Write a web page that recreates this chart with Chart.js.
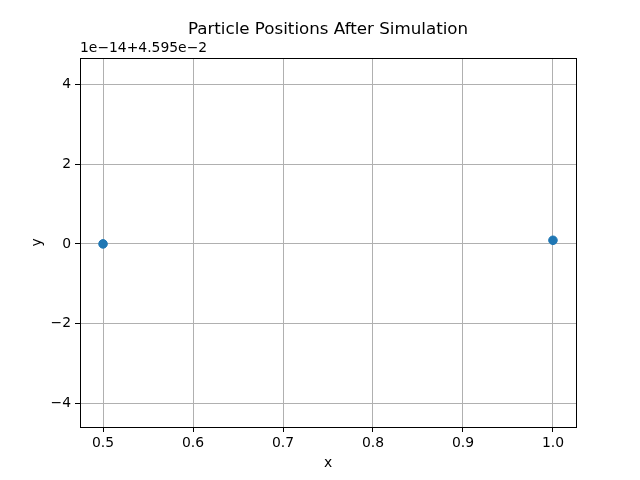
<!DOCTYPE html>
<html>
<head>
<meta charset="utf-8">
<script src="https://cdn.jsdelivr.net/npm/chart.js@4/dist/chart.umd.min.js"></script>
<style>
  html, body { margin: 0; padding: 0; background: #fff; }
  #wrap { width: 640px; height: 480px; }
</style>
</head>
<body>
<div id="wrap"><canvas id="chart" width="640" height="480"></canvas></div>
<script>
// particle positions; y in units of 1e-14 above the 4.595e-2 offset
const xVals = [0.5, 1.0];
const yVals = [0.0, 0.09];
const xTicks = [0.5, 0.6, 0.7, 0.8, 0.9, 1.0];
const yTicks = [-4, -2, 0, 2, 4];
const offsetLabel = "1e\u221214+4.595e\u22122";

const FONT = "'DejaVu Sans', sans-serif";

const decor = {
  id: "decor",
  afterDraw(chart) {
    const { ctx, chartArea: a } = chart;
    ctx.save();
    ctx.strokeStyle = "#000";
    ctx.lineWidth = 1;
    ctx.strokeRect(Math.round(a.left) + 0.5, Math.round(a.top) + 0.5,
                   Math.round(a.right - a.left), Math.round(a.bottom - a.top));
    ctx.fillStyle = "#000";
    ctx.font = "16.7px " + FONT;
    ctx.textAlign = "center";
    ctx.textBaseline = "alphabetic";
    ctx.fillText("Particle Positions After Simulation", (a.left + a.right) / 2, 34);
    ctx.font = "13.9px " + FONT;
    ctx.fillText("x", (a.left + a.right) / 2, 467);
    ctx.textAlign = "left";
    ctx.fillText(offsetLabel, a.left, 52);
    ctx.translate(41, (a.top + a.bottom) / 2);
    ctx.rotate(-Math.PI / 2);
    ctx.textAlign = "center";
    ctx.fillText("y", 0, 0);
    ctx.restore();
  }
};

new Chart(document.getElementById("chart"), {
  type: "scatter",
  data: {
    datasets: [{
      data: xVals.map((x, i) => ({ x: x, y: yVals[i] })),
      backgroundColor: "#1f77b4",
      borderColor: "#1f77b4",
      pointRadius: 4.3,
      pointHoverRadius: 4.3
    }]
  },
  options: {
    responsive: false,
    animation: false,
    layout: { padding: { top: 58, right: 64, bottom: 0, left: 0 } },
    plugins: { legend: { display: false }, tooltip: { enabled: false }, title: { display: false } },
    scales: {
      x: {
        type: "linear",
        min: 0.4744,
        max: 1.0256,
        afterBuildTicks: s => { s.ticks = xTicks.map(v => ({ value: v })); },
        afterFit: s => { s.height = 53; },
        border: { display: false },
        grid: { color: "#b0b0b0", lineWidth: 1, tickColor: "#000", tickLength: 5 },
        ticks: {
          color: "#000", font: { family: FONT, size: 13.9 }, padding: 3,
          maxRotation: 0, autoSkip: false,
          callback: v => v.toFixed(1)
        }
      },
      y: {
        type: "linear",
        min: -4.60,
        max: 4.67,
        afterBuildTicks: s => { s.ticks = yTicks.map(v => ({ value: v })); },
        afterFit: s => { s.width = 80; },
        border: { display: false },
        grid: { color: "#b0b0b0", lineWidth: 1, tickColor: "#000", tickLength: 5 },
        ticks: {
          color: "#000", font: { family: FONT, size: 13.9 }, padding: 4,
          autoSkip: false,
          callback: v => String(v).replace("-", "\u2212")
        }
      }
    }
  },
  plugins: [decor]
});
</script>
</body>
</html>
